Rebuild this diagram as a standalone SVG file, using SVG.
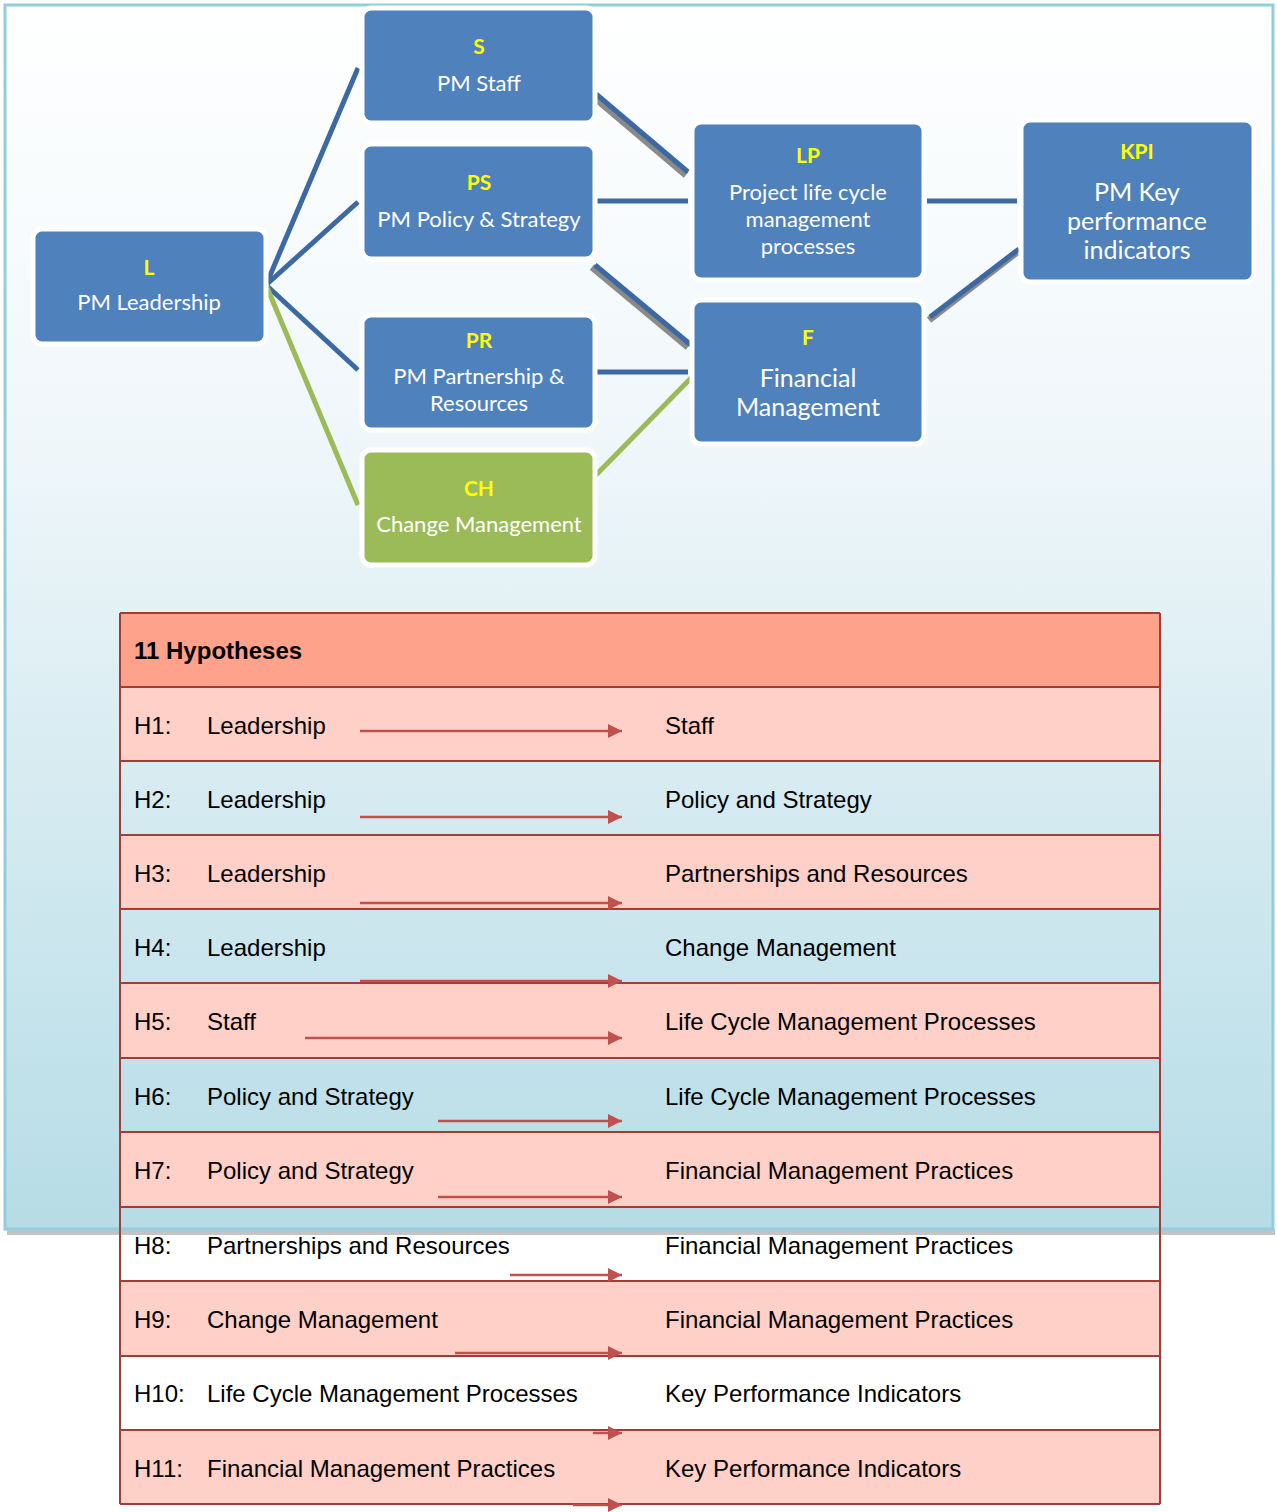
<svg xmlns="http://www.w3.org/2000/svg" width="1277" height="1512" viewBox="0 0 1277 1512">
<defs>
<linearGradient id="bg" x1="0" y1="0" x2="0" y2="1">
<stop offset="0" stop-color="#ffffff"/>
<stop offset="0.35" stop-color="#f0f7fa"/>
<stop offset="1" stop-color="#b6dce6"/>
</linearGradient>
<marker id="ahb" viewBox="0 0 10 10" refX="10" refY="5" markerWidth="17" markerHeight="14" markerUnits="userSpaceOnUse" orient="auto">
<path d="M0,0 L10,5 L0,10 z" fill="#c0504d"/>
</marker>
</defs>
<style>
.node{fill:#4f81bd;stroke:#ffffff;stroke-width:5}
.green{fill:#9bbb59}
.id{font-family:Lato,"Open Sans",sans-serif;font-weight:bold;fill:#ffff00;text-anchor:middle;font-size:21px}
.lbl{font-family:Lato,"Open Sans",sans-serif;fill:#ffffff;text-anchor:middle;font-size:22px}
.big{font-size:25px}
.conn{stroke:#3c68a3;stroke-width:5;fill:none}
.conng{stroke:#9bbb59;stroke-width:5;fill:none}
.sh{stroke:#8a8a8a;stroke-width:7;fill:none}
.row{stroke:#a33b36;stroke-width:2}
.pink{fill:#fed0c8}
.t{font-family:"Liberation Sans",Arial,sans-serif;font-size:24px;fill:#000000}
.arr{stroke:#c0504d;stroke-width:2.5;fill:none;marker-end:url(#ahb)}
</style>
<rect x="7" y="1229" width="1268" height="6" fill="#c4c4c4"/>
<rect x="5" y="5" width="1268" height="1224" fill="url(#bg)" stroke="#92cddc" stroke-width="3"/>

<g id="connectors">
<line class="conn" x1="266" y1="285" x2="358" y2="68"/>
<line class="conn" x1="266" y1="285" x2="358" y2="202"/>
<line class="conn" x1="266" y1="285" x2="358" y2="370"/>
<line class="conng" x1="266" y1="285" x2="358" y2="505"/>
<line class="sh" x1="594" y1="97" x2="686" y2="175"/>
<line class="conn" x1="596" y1="94" x2="688" y2="172"/>
<line class="conn" x1="597" y1="201" x2="688" y2="201"/>
<line class="sh" x1="592" y1="267" x2="688" y2="347"/>
<line class="conn" x1="595" y1="265" x2="691" y2="345"/>
<line class="conn" x1="597" y1="372" x2="688" y2="372"/>
<line class="conng" x1="596" y1="475" x2="692" y2="377"/>
<line class="conn" x1="927" y1="201" x2="1017" y2="201"/>
<line class="sh" x1="929" y1="320" x2="1017" y2="252"/>
<line class="conn" x1="930" y1="317" x2="1019" y2="249"/>
</g>

<g id="L"><rect class="node" x="33" y="229" width="233" height="115" rx="9"/>
<text class="id" x="149" y="275" font-size="19">L</text><text class="lbl" x="149" y="310">PM Leadership</text></g>
<g id="S"><rect class="node" x="362" y="8" width="233" height="115" rx="9"/>
<text class="id" x="479" y="54" font-size="19">S</text><text class="lbl" x="479" y="91">PM Staff</text></g>
<g id="PS"><rect class="node" x="362" y="144" width="233" height="115" rx="9"/>
<text class="id" x="479" y="190">PS</text><text class="lbl" x="479" y="227">PM Policy &amp; Strategy</text></g>
<g id="PR"><rect class="node" x="362" y="315" width="233" height="115" rx="9"/>
<text class="id" x="479" y="348">PR</text><text class="lbl" x="479" y="384">PM Partnership &amp;</text><text class="lbl" x="479" y="411">Resources</text></g>
<g id="CH"><rect class="node green" x="362" y="450" width="233" height="115" rx="9"/>
<text class="id" x="479" y="496">CH</text><text class="lbl" x="479" y="532">Change Management</text></g>
<g id="LP"><rect class="node" x="692" y="122" width="232" height="158" rx="9"/>
<text class="id" x="808" y="163">LP</text><text class="lbl" x="808" y="200">Project life cycle</text><text class="lbl" x="808" y="227">management</text><text class="lbl" x="808" y="254">processes</text></g>
<g id="F"><rect class="node" x="692" y="300" width="232" height="144" rx="9"/>
<text class="id" x="808" y="345">F</text><text class="lbl big" x="808" y="387">Financial</text><text class="lbl big" x="808" y="416">Management</text></g>
<g id="KPI"><rect class="node" x="1021" y="120" width="233" height="162" rx="9"/>
<text class="id" x="1137" y="159" font-size="23">KPI</text><text class="lbl big" x="1137" y="201">PM Key</text><text class="lbl big" x="1137" y="230">performance</text><text class="lbl big" x="1137" y="259">indicators</text></g>

<g id="table">
<rect x="120" y="613" width="1040" height="74" fill="#ffa28c"/>
<rect class="pink" x="120" y="687" width="1040" height="74"/>
<rect class="pink" x="120" y="835" width="1040" height="74"/>
<rect class="pink" x="120" y="983" width="1040" height="75"/>
<rect class="pink" x="120" y="1132" width="1040" height="75"/>
<rect class="pink" x="120" y="1281" width="1040" height="75"/>
<rect class="pink" x="120" y="1430" width="1040" height="74"/>
<g class="row">
<line x1="120" y1="613" x2="1160" y2="613"/>
<line x1="120" y1="687" x2="1160" y2="687"/>
<line x1="120" y1="761" x2="1160" y2="761"/>
<line x1="120" y1="835" x2="1160" y2="835"/>
<line x1="120" y1="909" x2="1160" y2="909"/>
<line x1="120" y1="983" x2="1160" y2="983"/>
<line x1="120" y1="1058" x2="1160" y2="1058"/>
<line x1="120" y1="1132" x2="1160" y2="1132"/>
<line x1="120" y1="1207" x2="1160" y2="1207"/>
<line x1="120" y1="1281" x2="1160" y2="1281"/>
<line x1="120" y1="1356" x2="1160" y2="1356"/>
<line x1="120" y1="1430" x2="1160" y2="1430"/>
<line x1="120" y1="1504" x2="1160" y2="1504"/>
<line x1="120" y1="613" x2="120" y2="1504"/>
<line x1="1160" y1="613" x2="1160" y2="1504"/>
</g>
<text class="t" x="134" y="659" font-weight="bold">11 Hypotheses</text>
<text class="t" x="134" y="734">H1:</text><text class="t" x="207" y="734">Leadership</text><text class="t" x="665" y="734">Staff</text>
<text class="t" x="134" y="808">H2:</text><text class="t" x="207" y="808">Leadership</text><text class="t" x="665" y="808">Policy and Strategy</text>
<text class="t" x="134" y="882">H3:</text><text class="t" x="207" y="882">Leadership</text><text class="t" x="665" y="882">Partnerships and Resources</text>
<text class="t" x="134" y="956">H4:</text><text class="t" x="207" y="956">Leadership</text><text class="t" x="665" y="956">Change Management</text>
<text class="t" x="134" y="1030">H5:</text><text class="t" x="207" y="1030">Staff</text><text class="t" x="665" y="1030">Life Cycle Management Processes</text>
<text class="t" x="134" y="1105">H6:</text><text class="t" x="207" y="1105">Policy and Strategy</text><text class="t" x="665" y="1105">Life Cycle Management Processes</text>
<text class="t" x="134" y="1179">H7:</text><text class="t" x="207" y="1179">Policy and Strategy</text><text class="t" x="665" y="1179">Financial Management Practices</text>
<text class="t" x="134" y="1254">H8:</text><text class="t" x="207" y="1254">Partnerships and Resources</text><text class="t" x="665" y="1254">Financial Management Practices</text>
<text class="t" x="134" y="1328">H9:</text><text class="t" x="207" y="1328">Change Management</text><text class="t" x="665" y="1328">Financial Management Practices</text>
<text class="t" x="134" y="1402">H10:</text><text class="t" x="207" y="1402">Life Cycle Management Processes</text><text class="t" x="665" y="1402">Key Performance Indicators</text>
<text class="t" x="134" y="1477">H11:</text><text class="t" x="207" y="1477">Financial Management Practices</text><text class="t" x="665" y="1477">Key Performance Indicators</text>
<line class="arr" x1="360" y1="731" x2="622" y2="731"/>
<line class="arr" x1="360" y1="817" x2="622" y2="817"/>
<line class="arr" x1="360" y1="903" x2="622" y2="903"/>
<line class="arr" x1="360" y1="981" x2="622" y2="981"/>
<line class="arr" x1="305" y1="1038" x2="622" y2="1038"/>
<line class="arr" x1="438" y1="1121" x2="622" y2="1121"/>
<line class="arr" x1="438" y1="1197" x2="622" y2="1197"/>
<line class="arr" x1="510" y1="1275" x2="622" y2="1275"/>
<line class="arr" x1="455" y1="1353" x2="622" y2="1353"/>
<line class="arr" x1="593" y1="1433" x2="622" y2="1433"/>
<line class="arr" x1="573" y1="1505" x2="622" y2="1505"/>
</g>
</svg>
